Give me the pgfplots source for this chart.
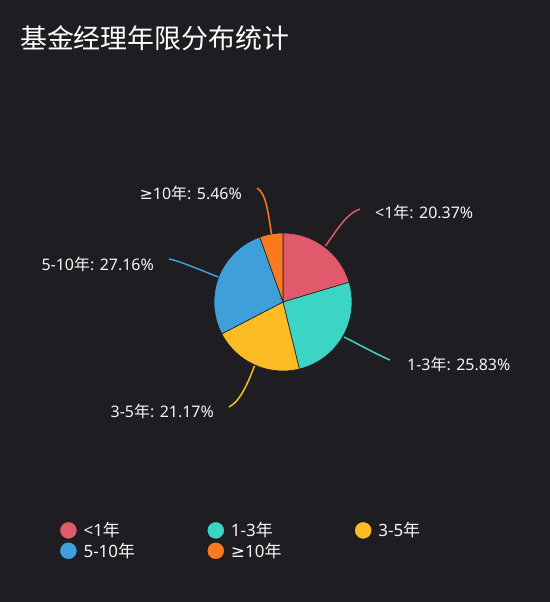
\documentclass[border=0pt]{standalone}
\usepackage{pgfplots}
\pgfplotsset{compat=1.18}
\usepackage{fontspec}
\setmainfont{Noto Sans}
\newfontfamily\cjk{Noto Sans CJK SC}
\newfontfamily\sym{DejaVu Sans}

\definecolor{bg}{HTML}{1E1D21}
\definecolor{c1}{HTML}{E05A6B}
\definecolor{c2}{HTML}{3CD5C4}
\definecolor{c3}{HTML}{FDBB24}
\definecolor{c4}{HTML}{3F9FDB}
\definecolor{c5}{HTML}{FA7A20}
\definecolor{txt}{HTML}{F5F5F5}

\newcommand{\lab}{\fontsize{16}{19}\selectfont}

\begin{document}
\begin{tikzpicture}
\begin{axis}[
    width=550bp, height=602bp, scale only axis,
    xmin=0, xmax=550, ymin=0, ymax=602, y dir=reverse,
    hide axis, clip=false,
    legend columns=3,
    legend image code/.code={\fill[#1] (0bp,0bp) circle[radius=8bp];},
    legend cell align=left,
    legend style={at={(axis cs:60,522)}, anchor=north west,
        draw=none, fill=none, text=txt,
        font=\fontsize{17}{20}\selectfont,
        inner sep=0pt, row sep=4bp, column sep=7bp,
        nodes={inner sep=0pt}},
]
% background
\fill[bg] (axis cs:0,0) rectangle (axis cs:550,602);

% title
\node[anchor=west, inner sep=0pt, text=white,
      font=\cjk\fontsize{27}{30}\selectfont] at (axis cs:20,38) {基金经理年限分布统计};

% pie: <1年 20.37, 1-3年 25.83, 3-5年 21.17, 5-10年 27.16, >=10年 5.46
\fill[c1, draw=bg, line width=0.6bp] (axis cs:283,302) -- ++(90:69bp)
    arc[start angle=90, end angle={90-3.6*20.37}, radius=69bp] -- cycle;
\fill[c2, draw=bg, line width=0.6bp] (axis cs:283,302) -- ++({90-3.6*20.37}:69bp)
    arc[start angle={90-3.6*20.37}, end angle={90-3.6*(20.37+25.83)}, radius=69bp] -- cycle;
\fill[c3, draw=bg, line width=0.6bp] (axis cs:283,302) -- ++({90-3.6*(20.37+25.83)}:69bp)
    arc[start angle={90-3.6*(20.37+25.83)}, end angle={90-3.6*(20.37+25.83+21.17)}, radius=69bp] -- cycle;
\fill[c4, draw=bg, line width=0.6bp] (axis cs:283,302) -- ++({90-3.6*(20.37+25.83+21.17)}:69bp)
    arc[start angle={90-3.6*(20.37+25.83+21.17)}, end angle={90-3.6*(20.37+25.83+21.17+27.16)}, radius=69bp] -- cycle;
\fill[c5, draw=bg, line width=0.6bp] (axis cs:283,302) -- ++({90-3.6*(20.37+25.83+21.17+27.16)}:69bp)
    arc[start angle={90-3.6*(20.37+25.83+21.17+27.16)}, end angle=-270, radius=69bp] -- cycle;

% leader lines
\draw[c1, line width=1.5bp] (axis cs:325.5,246) .. controls (axis cs:340,225) and (axis cs:348,213) .. (axis cs:360,209);
\draw[c2, line width=1.5bp] (axis cs:344,337) .. controls (axis cs:358,344) and (axis cs:378,355) .. (axis cs:390,360);
\draw[c3, line width=1.5bp] (axis cs:254.5,366) .. controls (axis cs:249,380) and (axis cs:241,401) .. (axis cs:229,407);
\draw[c4, line width=1.5bp] (axis cs:218.5,277) .. controls (axis cs:200,270) and (axis cs:180,261) .. (axis cs:169,259);
\draw[c5, line width=1.5bp] (axis cs:271.5,234) .. controls (axis cs:268,212) and (axis cs:266,193) .. (axis cs:257,188);

% labels
\node[anchor=west, inner sep=0pt, text=txt, font=\lab] at (axis cs:375,212) {<1{\cjk 年}: 20.37\%};
\node[anchor=west, inner sep=0pt, text=txt, font=\lab] at (axis cs:407,364) {1-3{\cjk 年}: 25.83\%};
\node[anchor=east, inner sep=0pt, text=txt, font=\lab] at (axis cs:214,411) {3-5{\cjk 年}: 21.17\%};
\node[anchor=east, inner sep=0pt, text=txt, font=\lab] at (axis cs:154,264) {5-10{\cjk 年}: 27.16\%};
\node[anchor=east, inner sep=0pt, text=txt, font=\lab] at (axis cs:242,193) {{\sym ≥}10{\cjk 年}: 5.46\%};

% legend
\addlegendimage{c1}
\addlegendentry{\makebox[117bp][l]{<1{\cjk 年}}}
\addlegendimage{c2}
\addlegendentry{\makebox[117bp][l]{1-3{\cjk 年}}}
\addlegendimage{c3}
\addlegendentry{\makebox[117bp][l]{3-5{\cjk 年}}}
\addlegendimage{c4}
\addlegendentry{\makebox[117bp][l]{5-10{\cjk 年}}}
\addlegendimage{c5}
\addlegendentry{\makebox[117bp][l]{{\sym ≥}10{\cjk 年}}}
\end{axis}
\end{tikzpicture}
\end{document}
